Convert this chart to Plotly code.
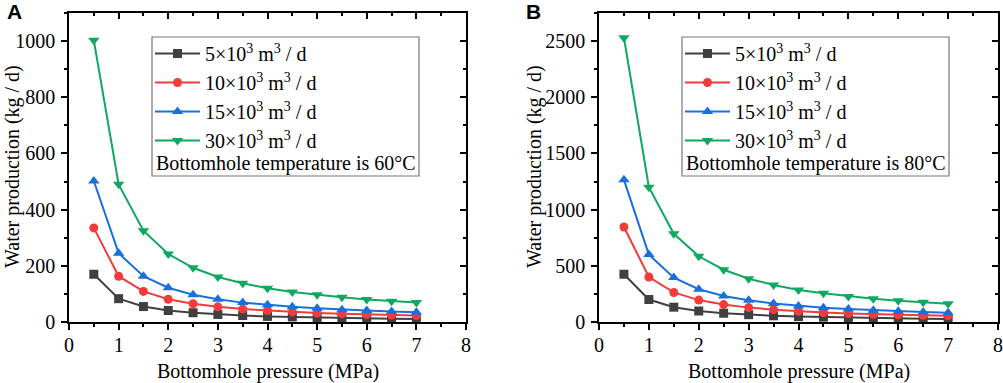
import plotly.graph_objects as go

# ---------------- data ----------------
pressure = [0.5, 1.0, 1.5, 2.0, 2.5, 3.0, 3.5, 4.0, 4.5, 5.0, 5.5, 6.0, 6.5, 7.0]

series_names = ["5×10<sup>3</sup> m<sup>3</sup> / d",
                "10×10<sup>3</sup> m<sup>3</sup> / d",
                "15×10<sup>3</sup> m<sup>3</sup> / d",
                "30×10<sup>3</sup> m<sup>3</sup> / d"]

# Panel A: bottomhole temperature 60 °C
a_5 = [170, 83, 55, 41, 33, 27, 23, 20, 18, 16, 15, 14, 12, 11]
a_10 = [335, 163, 109, 81, 65, 54, 46, 41, 36, 32, 29, 27, 25, 23]
a_15 = [502, 245, 163, 122, 97, 81, 69, 61, 54, 49, 44, 41, 37, 35]
a_30 = [1003, 490, 325, 242, 193, 160, 138, 120, 107, 97, 88, 80, 74, 69]

# Panel B: bottomhole temperature 80 °C
b_5 = [425, 200, 132, 98, 78, 65, 55, 48, 43, 38, 35, 32, 29, 27]
b_10 = [845, 400, 263, 195, 155, 128, 110, 96, 85, 76, 69, 64, 59, 55]
b_15 = [1265, 600, 395, 292, 232, 193, 165, 143, 127, 115, 104, 95, 88, 82]
b_30 = [2530, 1200, 785, 585, 465, 385, 330, 285, 255, 228, 207, 190, 175, 163]

temp_labels = ["Bottomhole temperature is 60°C", "Bottomhole temperature is 80°C"]
panel_labels = ["A", "B"]
x_title = "Bottomhole pressure (MPa)"
y_title = "Water production (kg / d)"

colors = ["#404040", "#f23b3b", "#1a6fdf", "#10a860"]
symbols = ["square", "circle", "triangle-up", "triangle-down"]

W, H = 1003, 383
MT, MB = 13, 61
PH = H - MT - MB
FONT = "Liberation Serif"
FS = 20


def py(ypx):
    """pixel y (from top) -> paper y"""
    return (H - MB - ypx) / PH


def px(xpx):
    return xpx / W


fig = go.Figure()

panels = [
    dict(data=[a_5, a_10, a_15, a_30], xa="x", ya="y", xt="x2", yt="y2",
         legend="legend", x0=69, x1=466, ymax=1100, dy=200, mdy=100, ytx=12, lab=5),
    dict(data=[b_5, b_10, b_15, b_30], xa="x3", ya="y3", xt="x4", yt="y4",
         legend="legend2", x0=599, x1=998, ymax=2750, dy=500, mdy=250, ytx=534, lab=524),
]


def ax_name(a):
    return "xaxis" + a[1:] if a[0] == "x" else "yaxis" + a[1:]


layout_axes = {}
for p_i, p in enumerate(panels):
    for s_i, vals in enumerate(p["data"]):
        fig.add_trace(go.Scatter(
            x=pressure, y=vals, name=series_names[s_i], mode="lines+markers",
            line=dict(color=colors[s_i], width=2),
            marker=dict(symbol=symbols[s_i], size=10 if s_i >= 2 else 9, color=colors[s_i]),
            xaxis=p["xa"], yaxis=p["ya"], legend=p["legend"],
        ))
    # dummy trace for mirrored (top/right) axes
    fig.add_trace(go.Scatter(x=[None], y=[None], xaxis=p["xt"], yaxis=p["yt"],
                             showlegend=False, hoverinfo="skip"))

    dom = [px(p["x0"]), px(p["x1"])]
    common = dict(showline=True, linecolor="black", linewidth=1.5,
                  showgrid=False, zeroline=False, tickcolor="black",
                  tickwidth=1.5, automargin=False,
                  tickfont=dict(family=FONT, size=FS, color="black"))
    layout_axes[ax_name(p["xa"])] = dict(
        domain=dom, range=[0, 8], dtick=1, tick0=0, ticks="outside", ticklen=6,
        anchor=p["ya"], ticklabelstandoff=-2,
        minor=dict(dtick=0.5, ticks="outside", ticklen=3, tickwidth=1.5, tickcolor="black"),
        **common)
    layout_axes[ax_name(p["ya"])] = dict(
        domain=[0, 1], range=[0, p["ymax"]], dtick=p["dy"], tick0=0, ticks="outside", ticklen=6,
        anchor=p["xa"], ticklabelstandoff=2,
        minor=dict(dtick=p["mdy"], ticks="outside", ticklen=3, tickwidth=1.5, tickcolor="black"),
        **common)
    layout_axes[ax_name(p["xt"])] = dict(
        overlaying=p["xa"], side="top", anchor=p["yt"], range=[0, 8], dtick=1, tick0=0,
        ticks="inside", ticklen=6, showticklabels=False,
        minor=dict(dtick=0.5, ticks="inside", ticklen=3, tickwidth=1.5, tickcolor="black"),
        **common)
    layout_axes[ax_name(p["yt"])] = dict(
        overlaying=p["ya"], side="right", anchor=p["xt"], range=[0, p["ymax"]],
        dtick=p["dy"], tick0=0, ticks="inside", ticklen=6, showticklabels=False,
        minor=dict(dtick=p["mdy"], ticks="inside", ticklen=3, tickwidth=1.5, tickcolor="black"),
        **common)

fig.update_layout(**layout_axes)

leg_common = dict(bgcolor="rgba(0,0,0,0)", borderwidth=0, xanchor="left", yanchor="top",
                  font=dict(family=FONT, size=FS, color="black"), itemwidth=45,
                  tracegroupgap=0)
annotations = []
shapes = []
for p_i, p in enumerate(panels):
    bx0 = p["x0"] + 83
    bx1 = bx0 + 267
    by0, by1 = 37, 176
    shapes.append(dict(type="rect", xref="paper", yref="paper",
                       x0=px(bx0), x1=px(bx1), y0=py(by0), y1=py(by1),
                       line=dict(color="#777777", width=1.2), fillcolor="rgba(0,0,0,0)"))
    leg = dict(x=px(bx0 - 2), y=py(by0 - 3), **leg_common)
    if p_i == 0:
        fig.update_layout(legend=leg)
    else:
        fig.update_layout(legend2=leg)
    annotations.append(dict(text=temp_labels[p_i], xref="paper", yref="paper",
                            x=px(bx0 + 2), y=py(163), xanchor="left", yanchor="middle",
                            showarrow=False, font=dict(family=FONT, size=FS, color="black")))
    annotations.append(dict(text="<b>" + panel_labels[p_i] + "</b>", xref="paper", yref="paper",
                            x=px(p["lab"]), y=py(12),
                            xanchor="left", yanchor="middle", showarrow=False,
                            font=dict(family="Liberation Sans", size=21, color="black")))
    # axis titles
    annotations.append(dict(text=x_title, xref="paper", yref="paper",
                            x=px((p["x0"] + p["x1"]) / 2), y=py(371),
                            xanchor="center", yanchor="middle", showarrow=False,
                            font=dict(family=FONT, size=FS, color="black")))
    annotations.append(dict(text=y_title, xref="paper", yref="paper", textangle=-90,
                            x=px(p["ytx"]), y=py(167),
                            xanchor="center", yanchor="middle", showarrow=False,
                            font=dict(family=FONT, size=FS, color="black")))

fig.update_layout(
    width=W, height=H,
    margin=dict(l=0, r=0, t=MT, b=MB, pad=0),
    font=dict(family=FONT, size=FS, color="black"),
    paper_bgcolor="white", plot_bgcolor="white",
    showlegend=True,
    annotations=annotations, shapes=shapes,
)

fig.write_html("out.html", config={"displayModeBar": False},
               post_script="document.body.style.margin='0px';")
